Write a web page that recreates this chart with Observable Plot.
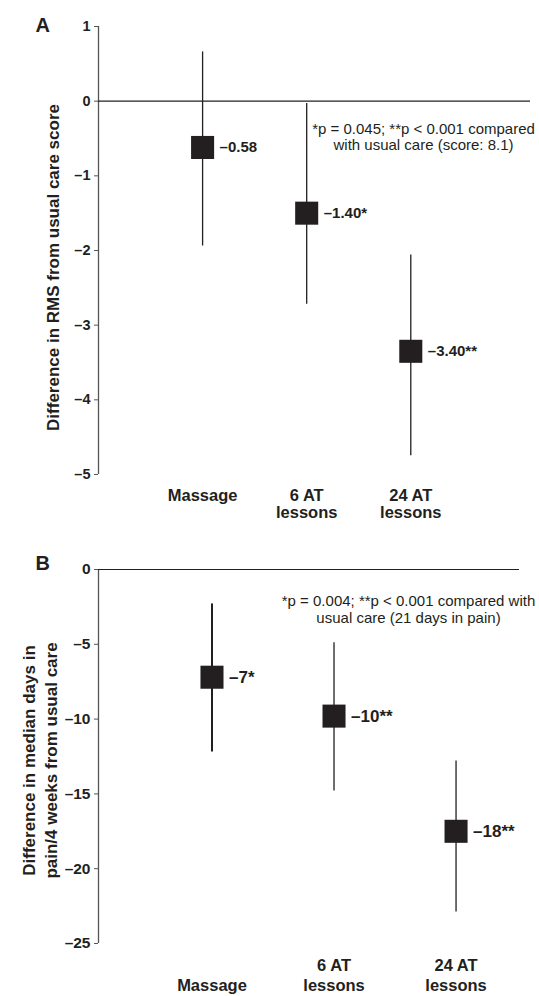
<!DOCTYPE html>
<html>
<head>
<meta charset="utf-8">
<script src="https://cdn.jsdelivr.net/npm/d3@7"></script>
<script src="https://cdn.jsdelivr.net/npm/@observablehq/plot@0.6"></script>
<style>
  html, body { margin: 0; padding: 0; background: #fff; }
  #chart svg { display: block; }
</style>
</head>
<body>
<div id="chart"></div>
<script>
// ---- Data ----
const categories = ["Massage", "6 AT\nlessons", "24 AT\nlessons"];

// Panel A: difference in RMS from usual care score
const rmsCenter = [-0.62, -1.50, -3.35];
const rmsLower  = [-1.94, -2.72, -4.75];
const rmsUpper  = [0.66, -0.03, -2.06];
const rmsLabels = ["–0.58", "–1.40*", "–3.40**"];
const rmsTicks  = [1, 0, -1, -2, -3, -4, -5];
const rmsNote   = "*p = 0.045; **p < 0.001 compared\nwith usual care (score: 8.1)";
const rmsTitle  = "Difference in RMS from usual care score";

// Panel B: difference in median days in pain / 4 weeks
const painCenter = [-7.2, -9.8, -17.5];
const painLower  = [-12.2, -14.8, -22.9];
const painUpper  = [-2.3, -4.9, -12.8];
const painLabels = ["–7*", "–10**", "–18**"];
const painTicks  = [0, -5, -10, -15, -20, -25];
const painNote   = "*p = 0.004; **p < 0.001 compared with\nusual care (21 days in pain)";
const painTitle  = "Difference in median days in\npain/4 weeks from usual care";

const ink = "#231f20";
const axisGray = "#555";
const font = "'Liberation Sans', Arial, Helvetica, sans-serif";
const fmt = d => d < 0 ? "–" + (-d) : String(d);

function rows(center, lower, upper, labels) {
  return categories.map((c, i) => ({i, cat: c, v: center[i], lo: lower[i], hi: upper[i], label: labels[i]}));
}

const dataA = rows(rmsCenter, rmsLower, rmsUpper, rmsLabels);
const dataB = rows(painCenter, painLower, painUpper, painLabels);

const plotA = Plot.plot({
  width: 539,
  height: 540,
  marginTop: 26,
  marginBottom: 66,
  marginLeft: 98,
  marginRight: 9,
  style: {fontFamily: font, color: ink, background: "#fff"},
  x: {type: "linear", domain: [-1, 3.15], axis: null},
  y: {domain: [-5, 1], axis: null},
  marks: [
    Plot.ruleX([-1], {stroke: axisGray, strokeWidth: 1.3}),
    Plot.axisY(rmsTicks, {ticks: rmsTicks, tickFormat: fmt, tickSize: 4, tickPadding: 4, stroke: axisGray, fill: ink, fontSize: 14.5, fontWeight: "bold", label: null}),
    Plot.axisX([0, 1, 2], {ticks: [0, 1, 2], tickFormat: i => categories[i], tickSize: 0, tickPadding: 14, fill: ink, fontSize: 16.5, fontWeight: "bold", lineHeight: 1.03, label: null}),
    Plot.ruleY([0], {stroke: ink, strokeWidth: 1.2}),
    Plot.ruleX(dataA, {x: "i", y1: "lo", y2: "hi", stroke: ink, strokeWidth: 1.3}),
    Plot.dot(dataA, {x: "i", y: "v", symbol: "square", r: 13, fill: ink, stroke: "none"}),
    Plot.text(dataA, {x: "i", y: "v", text: "label", dx: 17, textAnchor: "start", fill: ink, fontSize: 15, fontWeight: "bold"}),
    Plot.text([rmsNote], {frameAnchor: "top-right", dx: -107, dy: 110, textAnchor: "middle", lineAnchor: "middle", lineHeight: 1.1, fill: ink, fontSize: 15}),
    Plot.text([rmsTitle], {frameAnchor: "left", dx: -45, dy: 17, rotate: -90, textAnchor: "middle", lineAnchor: "middle", fill: ink, fontSize: 17, fontWeight: "bold"}),
    Plot.text(["A"], {frameAnchor: "top-left", dx: -63, dy: -1, textAnchor: "start", lineAnchor: "middle", fill: ink, fontSize: 20, fontWeight: "bold"})
  ]
});

const plotB = Plot.plot({
  width: 539,
  height: 456,
  marginTop: 29,
  marginBottom: 53,
  marginLeft: 98,
  marginRight: 20,
  style: {fontFamily: font, color: ink, background: "#fff"},
  x: {type: "linear", domain: [-0.93, 2.52], axis: null},
  y: {domain: [-25, 0], axis: null},
  marks: [
    Plot.ruleX([-0.93], {stroke: axisGray, strokeWidth: 1.3}),
    Plot.axisY(painTicks, {ticks: painTicks, tickFormat: fmt, tickSize: 4, tickPadding: 4, stroke: axisGray, fill: ink, fontSize: 15.5, fontWeight: "bold", label: null}),
    Plot.axisX([0, 1, 2], {ticks: [0, 1, 2], tickFormat: i => categories[i].includes("\n") ? categories[i] : "\n" + categories[i], tickSize: 0, tickPadding: 14, fill: ink, fontSize: 16.5, fontWeight: "bold", lineHeight: 1.17, label: null}),
    Plot.ruleY([0], {stroke: ink, strokeWidth: 1.2}),
    Plot.ruleX(dataB, {x: "i", y1: "lo", y2: "hi", stroke: ink, strokeWidth: d => d.i === 0 ? 2 : 1.3}),
    Plot.dot(dataB, {x: "i", y: "v", symbol: "square", r: 13, fill: ink, stroke: "none"}),
    Plot.text(dataB, {x: "i", y: "v", text: "label", dx: 17, textAnchor: "start", fill: ink, fontSize: 17, fontWeight: "bold"}),
    Plot.text([painNote], {frameAnchor: "top-right", dx: -111, dy: 40, textAnchor: "middle", lineAnchor: "middle", lineHeight: 1.13, fill: ink, fontSize: 15}),
    Plot.text([painTitle], {frameAnchor: "left", dx: -60, dy: 4, rotate: -90, textAnchor: "middle", lineAnchor: "middle", lineHeight: 1.3, fill: ink, fontSize: 17, fontWeight: "bold"}),
    Plot.text(["B"], {frameAnchor: "top-left", dx: -63, dy: -6, textAnchor: "start", lineAnchor: "middle", fill: ink, fontSize: 20, fontWeight: "bold"})
  ]
});

document.getElementById("chart").append(plotA, plotB);
</script>
</body>
</html>
